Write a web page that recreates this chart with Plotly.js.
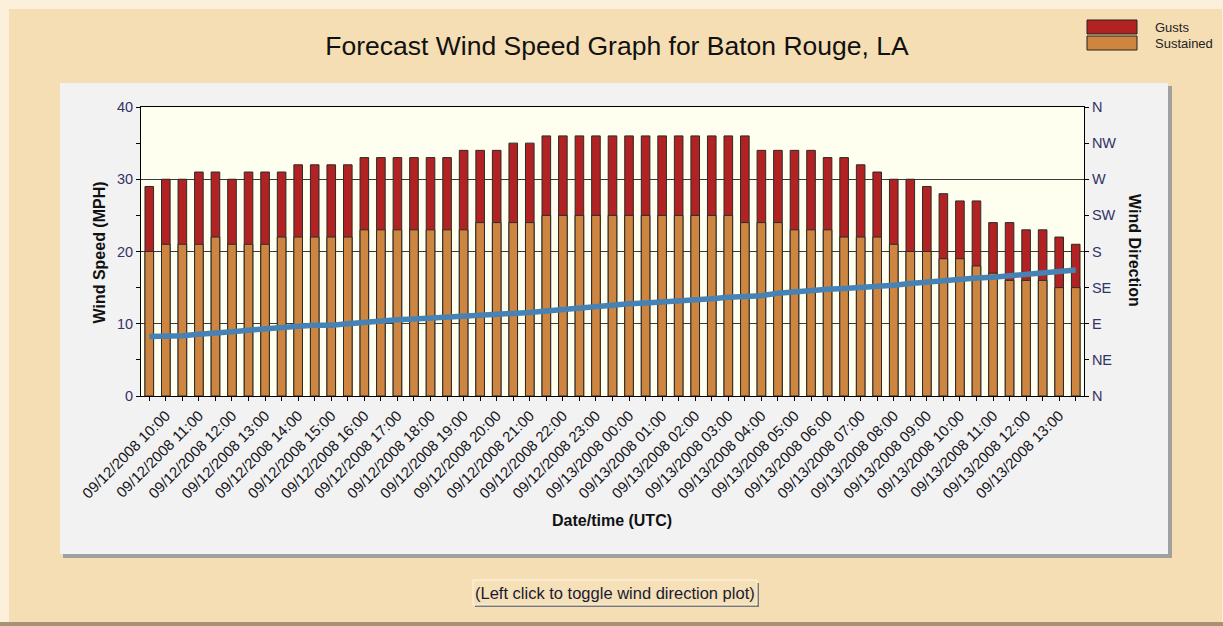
<!DOCTYPE html>
<html><head><meta charset="utf-8">
<script src="https://cdn.plot.ly/plotly-3.0.1.min.js"></script>
<style>html,body{margin:0;padding:0;background:#F5DEB3;overflow:hidden}#chart{width:1223px;height:626px}</style>
</head><body><div id="chart"></div>
<script>
const times = [
"09/12/2008 09:30","09/12/2008 10:00","09/12/2008 10:30","09/12/2008 11:00","09/12/2008 11:30","09/12/2008 12:00",
"09/12/2008 12:30","09/12/2008 13:00","09/12/2008 13:30","09/12/2008 14:00","09/12/2008 14:30","09/12/2008 15:00",
"09/12/2008 15:30","09/12/2008 16:00","09/12/2008 16:30","09/12/2008 17:00","09/12/2008 17:30","09/12/2008 18:00",
"09/12/2008 18:30","09/12/2008 19:00","09/12/2008 19:30","09/12/2008 20:00","09/12/2008 20:30","09/12/2008 21:00",
"09/12/2008 21:30","09/12/2008 22:00","09/12/2008 22:30","09/12/2008 23:00","09/12/2008 23:30","09/13/2008 00:00",
"09/13/2008 00:30","09/13/2008 01:00","09/13/2008 01:30","09/13/2008 02:00","09/13/2008 02:30","09/13/2008 03:00",
"09/13/2008 03:30","09/13/2008 04:00","09/13/2008 04:30","09/13/2008 05:00","09/13/2008 05:30","09/13/2008 06:00",
"09/13/2008 06:30","09/13/2008 07:00","09/13/2008 07:30","09/13/2008 08:00","09/13/2008 08:30","09/13/2008 09:00",
"09/13/2008 09:30","09/13/2008 10:00","09/13/2008 10:30","09/13/2008 11:00","09/13/2008 11:30","09/13/2008 12:00",
"09/13/2008 12:30","09/13/2008 13:00","09/13/2008 13:30"];
const gusts = [29,30,30,31,31,30,31,31,31,32,32,32,32,33,33,33,33,33,33,34,34,34,35,35,
36,36,36,36,36,36,36,36,36,36,36,36,36,34,34,34,34,33,33,32,31,30,30,29,28,27,27,24,24,23,23,22,21];
const sustained = [20,21,21,21,22,21,21,21,22,22,22,22,22,23,23,23,23,23,23,23,24,24,24,24,
25,25,25,25,25,25,25,25,25,25,25,25,24,24,24,23,23,23,22,22,22,21,20,20,19,19,18,17,16,16,16,15,15];
const direction = [74,74,75,77,78,80,82,84,85,87,88,88,90,92,93,95,96,97,98,99,100,101,103,104,106,108,110,112,113,115,
116,117,119,120,121,123,124,125,128,130,131,133,134,135,136,138,140,142,144,145,147,148,150,151,153,155,157];
const speedTickVals = [0,10,20,30,40];
const speedMinorVals = [5,15,25,35];
const dirTickVals = [0,45,90,135,180,225,270,315,360];
const dirTickText = ['N','NE','E','SE','S','SW','W','NW','N'];
const xTickText = times.map(t => t.endsWith(':00') ? t : '');

const FONT = 'Liberation Sans, Arial, sans-serif';
const L = 141, R = 1084, T = 107, B = 396;
const px = x => (x - L) / (R - L);
const py = y => (B - y) / (B - T);
function rect(x0, y0, x1, y1, fill, line) {
  return {type:'rect', xref:'paper', yref:'paper', x0:px(x0), x1:px(x1), y0:py(y1), y1:py(y0),
    fillcolor:fill, line:{width: line ? 1 : 0, color: line || fill}, layer:'below'};
}
const shapes = [
  rect(0, 0, 1223, 626, '#FDF0DB'),
  rect(9, 9, 1222, 622, '#F5DEB3'),
  rect(0, 622, 1223, 626, '#A89274'),
  rect(63, 86, 1172, 558, '#A0A0A0'),
  rect(60, 83, 1168, 554, '#F2F2F2'),
  rect(141, 107, 1084, 396, '#FFFFF0'),
  rect(1087, 20, 1137, 34, '#B22222', '#222222'),
  rect(1087, 36, 1137, 50, '#CD853F', '#222222'),
  rect(475, 583, 759, 607, '#7A7A7A'),
  rect(473, 580, 757, 605, '#F6E0B8', '#FFF6E6')
];
const ann = (text, x, y, opts) => Object.assign({text, x:px(x), y:py(y), xref:'paper', yref:'paper',
  showarrow:false, xanchor:'center', yanchor:'middle'}, opts);
const annotations = [
  ann('<b>Wind Speed (MPH)</b>', 98.5, 253, {textangle:-90, font:{family:FONT, size:16, color:'#111'}}),
  ann('<b>Wind Direction</b>', 1135, 250, {textangle:90, font:{family:FONT, size:16, color:'#111'}}),
  ann('<b>Date/time (UTC)</b>', 612, 520, {font:{family:FONT, size:16, color:'#111'}}),
  ann('Gusts', 1153, 27, {xanchor:'left', font:{family:FONT, size:13, color:'#222'}}),
  ann('Sustained', 1153, 43.5, {xanchor:'left', font:{family:FONT, size:13, color:'#222'}}),
  ann('(Left click to toggle wind direction plot)', 615, 593, {font:{family:FONT, size:16.5, color:'#1a1a33'}})
];

const traces = [
  {type:'bar', name:'Gusts', x:times, y:gusts, marker:{color:'#B22222', line:{color:'#2b2b2b', width:1}}, showlegend:false, hoverinfo:'skip'},
  {type:'bar', name:'Sustained', x:times, y:sustained, marker:{color:'#CD853F', line:{color:'#2b2b2b', width:1}}, showlegend:false, hoverinfo:'skip'},
  {type:'scatter', mode:'lines', name:'Direction', x:times, y:direction, yaxis:'y2', line:{color:'#4682B4', width:5.5}, showlegend:false, hoverinfo:'skip'}
];

const layout = {
  width:1223, height:626,
  margin:{l:L, r:1223-R, t:T, b:626-B, pad:0},
  paper_bgcolor:'#F5DEB3', plot_bgcolor:'rgba(0,0,0,0)',
  barmode:'overlay', bargap:0.48,
  showlegend:false,
  title:{text:'Forecast Wind Speed Graph for Baton Rouge, LA', x:617/1223, xanchor:'center', xref:'container',
    y:1-46/626, yanchor:'middle', yref:'container', font:{family:FONT, size:26.5, color:'#111'}},
  xaxis:{type:'category', range:[-0.5, times.length-0.5], tickvals:times, ticktext:xTickText, tickangle:-45,
    ticks:'outside', ticklen:4, tickcolor:'#000', showline:true, linecolor:'#000', linewidth:1, mirror:true,
    showgrid:false, zeroline:false, tickfont:{family:FONT, size:15, color:'#151520'}},
  yaxis:{range:[0,40], tickvals:speedTickVals, ticks:'outside', ticklen:4, tickcolor:'#000',
    minor:{tickvals:speedMinorVals, ticks:'outside', ticklen:4, tickcolor:'#000', showgrid:false},
    showgrid:true, gridcolor:'#3a3a3a', gridwidth:1, showline:true, linecolor:'#000', zeroline:false,
    tickfont:{family:FONT, size:14.5, color:'#333366'}},
  yaxis2:{overlaying:'y', side:'right', range:[0,360], tickvals:dirTickVals, ticktext:dirTickText,
    ticks:'outside', ticklen:4, tickcolor:'#000', showline:true, linecolor:'#000', showgrid:false, zeroline:false,
    tickfont:{family:FONT, size:14.5, color:'#333366'}},
  shapes, annotations
};
Plotly.newPlot('chart', traces, layout, {displayModeBar:false, staticPlot:true});
</script></body></html>
